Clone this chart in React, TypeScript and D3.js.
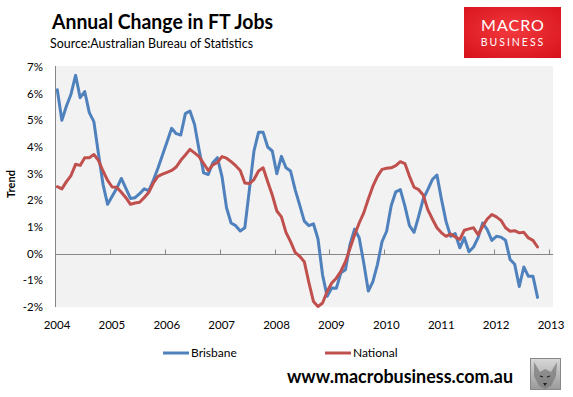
import React from "react";
import * as d3 from "d3";

// Monthly trend, Jan 2004 .. Oct 2012 (annual % change in full-time jobs)
const brisbane: number[] = [
  6.15, 5.0, 5.54, 5.98, 6.69, 5.85, 6.08, 5.29, 4.95, 3.75, 2.6, 1.85,
  2.15, 2.45, 2.82, 2.45, 2.07, 2.1, 2.25, 2.43, 2.36, 2.75, 3.2, 3.7,
  4.2, 4.7, 4.5, 4.45, 5.25, 5.35, 4.85, 3.9, 3.03, 2.97, 3.41, 3.6,
  2.9, 1.72, 1.15, 1.05, 0.85, 0.97, 2.4, 3.85, 4.55, 4.55, 4.0, 3.85,
  3.0, 3.65, 3.22, 3.1, 2.4, 1.82, 1.22, 1.05, 1.12, 0.55, -0.8, -1.6,
  -1.29, -1.3, -0.72, -0.6, 0.35, 0.92, 0.6, -0.35, -1.4, -1.05, -0.4, 0.45,
  0.84, 1.8, 2.32, 2.4, 1.78, 1.05, 0.8, 1.4, 2.05, 2.4, 2.78, 2.95,
  2.03, 1.2, 0.65, 0.75, 0.22, 0.6, 0.07, 0.25, 0.6, 1.15, 0.9, 0.5,
  0.65, 0.62, 0.5, -0.22, -0.4, -1.23, -0.5, -0.85, -0.85, -1.64,
];

const national: number[] = [
  2.51, 2.43, 2.7, 2.93, 3.35, 3.31, 3.6, 3.6, 3.72, 3.5, 3.1, 2.75,
  2.5, 2.49, 2.3, 2.1, 1.85, 1.9, 1.93, 2.1, 2.3, 2.65, 2.9, 2.98,
  3.05, 3.12, 3.25, 3.5, 3.7, 3.91, 3.78, 3.64, 3.38, 3.12, 3.33, 3.42,
  3.64, 3.58, 3.45, 3.3, 3.12, 2.65, 2.63, 2.78, 3.1, 3.22, 2.7, 2.2,
  1.6, 1.38, 0.8, 0.45, 0.05, -0.1, -0.3, -1.08, -1.79, -1.98, -1.85, -1.42,
  -1.1, -0.92, -0.66, -0.3, 0.2, 0.71, 1.15, 1.53, 2.05, 2.53, 2.9, 3.16,
  3.2, 3.22, 3.3, 3.45, 3.38, 2.9, 2.49, 2.4, 2.2, 1.65, 1.3, 0.97,
  0.78, 0.65, 0.74, 0.63, 0.53, 0.88, 0.93, 0.97, 0.71, 1.03, 1.3, 1.47,
  1.38, 1.25, 0.97, 0.84, 0.86, 0.78, 0.8, 0.59, 0.5, 0.25,
];

const yearTicks: number[] = [2004, 2005, 2006, 2007, 2008, 2009, 2010, 2011, 2012, 2013];
const yTicks: number[] = [-2, -1, 0, 1, 2, 3, 4, 5, 6, 7];
const seriesNames: string[] = ["Brisbane", "National"];
const seriesColors: string[] = ["#4F81BD", "#C0504D"];

const START_YEAR = 2004;

export default function App() {
  const W = 573;
  const H = 397;
  const plotLeft = 55;
  const plotRight = 553;
  const plotTop = 66;
  const plotBottom = 307;

  const x = d3.scaleLinear().domain([2004, 2013]).range([55, 549]);
  const y = d3.scaleLinear().domain([-2, 7]).range([plotBottom, 67]);

  const toPoints = (vals: number[]) =>
    vals.map((v, j) => ({ t: START_YEAR + (j + 0.5) / 12, v }));

  const line = d3
    .line<{ t: number; v: number }>()
    .x((d) => x(d.t))
    .y((d) => y(d.v));

  const series = [brisbane, national];
  const font = "Lato, 'Open Sans', Arial, sans-serif";

  return (
    <svg
      width={W}
      height={H}
      viewBox={`0 0 ${W} ${H}`}
      style={{ position: "absolute", left: 0, top: 0, background: "#fff" }}
      fontFamily={font}
    >
      <defs>
        <radialGradient id="logoGrad" cx="50%" cy="45%" r="70%">
          <stop offset="0%" stopColor="#F23A3F" />
          <stop offset="100%" stopColor="#D8131B" />
        </radialGradient>
        <linearGradient id="wolfGrad" x1="0" y1="0" x2="0" y2="1">
          <stop offset="0%" stopColor="#d8d8d8" />
          <stop offset="100%" stopColor="#9a9a9a" />
        </linearGradient>
      </defs>

      {/* Title */}
      <text x={52} y={29} fontSize={20} fontWeight="bold" fill="#000" textLength={221} lengthAdjust="spacingAndGlyphs">
        Annual Change in FT Jobs
      </text>
      <text x={50} y={48} fontSize={12.5} fill="#000" textLength={203} lengthAdjust="spacingAndGlyphs">
        Source:Australian Bureau of Statistics
      </text>

      {/* Logo */}
      <rect x={464} y={7} width={97} height={51} fill="url(#logoGrad)" />
      <text x={513} y={31} fontSize={16} fill="#fff" textAnchor="middle" letterSpacing={1}>
        MACRO
      </text>
      <text x={513} y={46} fontSize={10.5} fill="#fff" textAnchor="middle" letterSpacing={2}>
        BUSINESS
      </text>

      {/* Plot area */}
      <rect x={plotLeft} y={plotTop} width={plotRight - plotLeft} height={plotBottom - plotTop} fill="#F2F2F2" />
      <line x1={plotLeft + 0.5} x2={plotLeft + 0.5} y1={plotTop} y2={plotBottom} stroke="#868686" strokeWidth={1} />
      <line x1={plotLeft} x2={plotRight} y1={Math.round(y(0)) + 0.5} y2={Math.round(y(0)) + 0.5} stroke="#868686" strokeWidth={1} />
      {yearTicks.map((t) => (
        <line
          key={"tk" + t}
          x1={Math.round(x(t)) + 0.5}
          x2={Math.round(x(t)) + 0.5}
          y1={Math.round(y(0)) + 0.5}
          y2={Math.round(y(0)) - 4.5}
          stroke="#868686"
        />
      ))}

      {/* Y labels */}
      {yTicks.map((t) => (
        <text key={"yl" + t} x={43} y={y(t) + 4} fontSize={11.5} textAnchor="end" fill="#000">
          {t + "%"}
        </text>
      ))}
      <text
        transform={`translate(15, 184) rotate(-90)`}
        fontSize={11}
        fontWeight="bold"
        textAnchor="middle"
        fill="#000"
      >
        Trend
      </text>

      {/* X labels */}
      {yearTicks.map((t) => (
        <text key={"xl" + t} x={x(t) + 2} y={329} fontSize={11.5} textAnchor="middle" fill="#000">
          {t}
        </text>
      ))}

      {/* Lines */}
      {series.map((s, i) => (
        <path
          key={"s" + i}
          d={line(toPoints(s)) || ""}
          fill="none"
          stroke={seriesColors[i]}
          strokeWidth={3}
          strokeLinejoin="round"
          strokeLinecap="round"
        />
      ))}

      {/* Legend */}
      {seriesNames.map((n, i) => {
        const lx = i === 0 ? 163 : 325;
        return (
          <g key={"lg" + n}>
            <line x1={lx} x2={lx + 26} y1={353} y2={353} stroke={seriesColors[i]} strokeWidth={3} />
            <text x={lx + 28} y={357} fontSize={12} fill="#000">
              {n}
            </text>
          </g>
        );
      })}

      {/* URL */}
      <text x={287} y={383} fontSize={19} fontWeight="bold" fill="#000" textLength={226} lengthAdjust="spacingAndGlyphs">
        www.macrobusiness.com.au
      </text>

      {/* Wolf badge */}
      <rect x={530.5} y={358.5} width={30} height={31} fill="url(#wolfGrad)" stroke="#888" />
      <path
        d="M534,362 L540,372 L545,369 L551,372 L557,362 L556,376 L551,386 L545,389 L539,386 L534,376 Z"
        fill="#777"
        opacity={0.7}
      />
      <path d="M540,376 L543,377 M547,377 L550,376" stroke="#222" strokeWidth={1.2} />
      <path d="M543,383 L545,386 L547,383 Z" fill="#222" />
    </svg>
  );
}
